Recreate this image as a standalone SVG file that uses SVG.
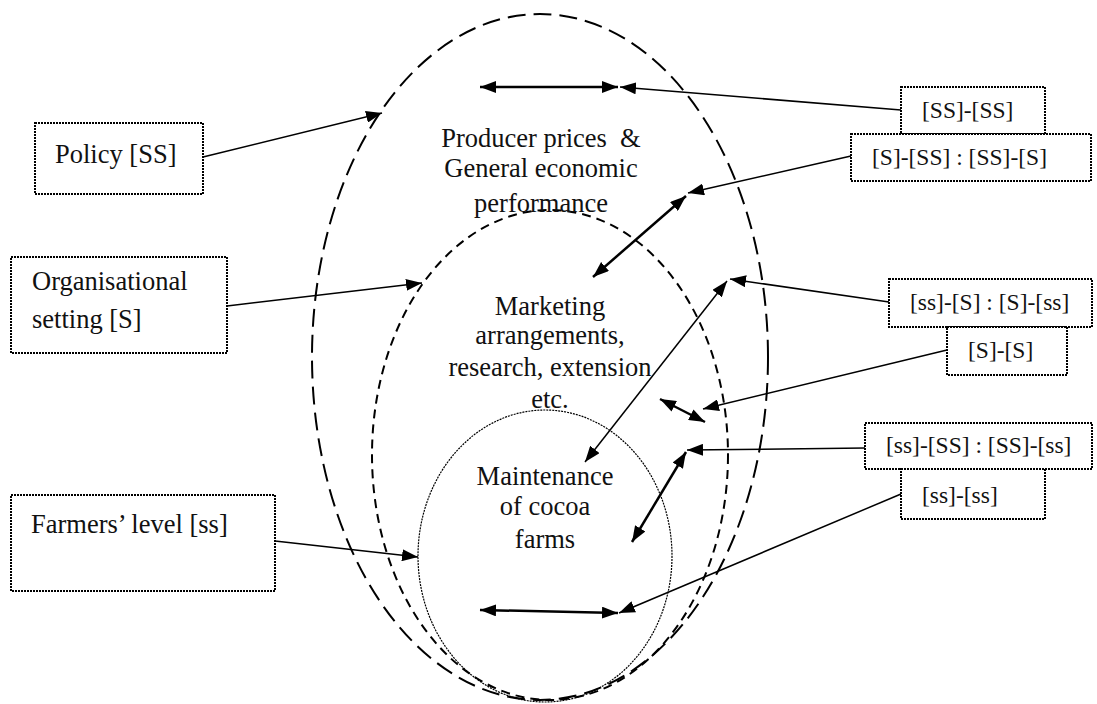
<svg xmlns="http://www.w3.org/2000/svg" width="1097" height="704" viewBox="0 0 1097 704">
  <style>
    .box { fill: #fff; stroke: #000; stroke-width: 2; stroke-dasharray: 2 1; }
    .lbl { font-family: "Liberation Serif", "Times New Roman", serif; font-size: 26.5px; fill: #111; }
    .code { font-size: 23.5px; }
    .mid { text-anchor: middle; }
    .conn { stroke: #000; stroke-width: 1.5; fill: none; }
    .thick { stroke: #000; stroke-width: 2.5; fill: none; }
    .ring-outer { fill: none; stroke: #000; stroke-width: 2; stroke-dasharray: 18 8; }
    .ring-mid { fill: none; stroke: #000; stroke-width: 2; stroke-dasharray: 9 6; }
    .ring-inner { fill: none; stroke: #000; stroke-width: 1.2; stroke-dasharray: 2 1; }
  </style>
  <defs>
    <marker id="head" viewBox="0 0 16 12" refX="16" refY="6" markerWidth="16" markerHeight="12" markerUnits="userSpaceOnUse" orient="auto-start-reverse">
      <path d="M0,0 L16,6 L0,12 z" fill="#000"/>
    </marker>
  </defs>

  <!-- nested levels -->
  <g id="levels">
    <ellipse id="level-policy" class="ring-outer" cx="540" cy="357" rx="228" ry="343"/>
    <ellipse id="level-organisation" class="ring-mid" cx="550" cy="455" rx="178" ry="245"/>
    <ellipse id="level-farm" class="ring-inner" cx="545" cy="556" rx="127" ry="146"/>
  </g>

  <!-- labels inside the levels -->
  <g id="level-texts">
    <text class="lbl mid" x="541" y="147">Producer prices&#160; &amp;</text>
    <text class="lbl mid" x="541" y="177">General economic</text>
    <text class="lbl mid" x="541" y="212">performance</text>
    <text class="lbl mid" x="550" y="315">Marketing</text>
    <text class="lbl mid" x="550" y="344">arrangements,</text>
    <text class="lbl mid" x="550" y="376">research, extension</text>
    <text class="lbl mid" x="550" y="408">etc.</text>
    <text class="lbl mid" x="545" y="485">Maintenance</text>
    <text class="lbl mid" x="545" y="515">of cocoa</text>
    <text class="lbl mid" x="545" y="548">farms</text>
  </g>

  <!-- connectors -->
  <g id="connectors">
    <line class="conn" x1="203" y1="157" x2="382" y2="113" marker-end="url(#head)"/>
    <line class="conn" x1="227" y1="306" x2="422" y2="283" marker-end="url(#head)"/>
    <line class="conn" x1="275" y1="541" x2="418" y2="557" marker-end="url(#head)"/>

    <line class="thick" x1="480" y1="87" x2="618" y2="87" marker-start="url(#head)" marker-end="url(#head)"/>
    <line class="conn" x1="901" y1="110" x2="620" y2="87" marker-end="url(#head)"/>

    <line class="conn" x1="851" y1="156" x2="688" y2="193" marker-end="url(#head)"/>
    <line class="thick" x1="686" y1="196" x2="593" y2="277" marker-start="url(#head)" marker-end="url(#head)"/>

    <line class="conn" x1="889" y1="302" x2="730" y2="279" marker-end="url(#head)"/>
    <line class="conn" x1="727" y1="281" x2="585" y2="462" marker-start="url(#head)" marker-end="url(#head)"/>

    <line class="conn" x1="947" y1="350" x2="703" y2="409" marker-end="url(#head)"/>
    <line class="thick" x1="660" y1="399" x2="705" y2="422" marker-start="url(#head)" marker-end="url(#head)"/>

    <line class="conn" x1="865" y1="448" x2="687" y2="450" marker-end="url(#head)"/>
    <line class="thick" x1="686" y1="452" x2="632" y2="542" marker-start="url(#head)" marker-end="url(#head)"/>

    <line class="conn" x1="901" y1="494" x2="619" y2="613" marker-end="url(#head)"/>
    <line class="thick" x1="480" y1="610" x2="618" y2="613" marker-start="url(#head)" marker-end="url(#head)"/>
  </g>

  <!-- left-hand boxes -->
  <g id="policy">
    <rect class="box" x="35" y="123" width="168" height="71"/>
    <text class="lbl" x="55" y="163">Policy [SS]</text>
  </g>
  <g id="organisational-setting">
    <rect class="box" x="11" y="257" width="216" height="96"/>
    <text class="lbl" x="32" y="290">Organisational</text>
    <text class="lbl" x="32" y="328">setting [S]</text>
  </g>
  <g id="farmers-level">
    <rect class="box" x="11" y="495" width="264" height="96"/>
    <text class="lbl" x="31" y="533">Farmers’ level [ss]</text>
  </g>

  <!-- right-hand boxes -->
  <g id="ss-ss-upper">
    <rect class="box" x="901" y="87" width="144" height="47"/>
    <text class="lbl code" x="922" y="118">[SS]-[SS]</text>
  </g>
  <g id="s-ss">
    <rect class="box" x="851" y="134" width="240" height="47"/>
    <text class="lbl code" x="872" y="165">[S]-[SS] : [SS]-[S]</text>
  </g>
  <g id="ss-s">
    <rect class="box" x="889" y="279" width="203" height="48"/>
    <text class="lbl code" x="910" y="310">[ss]-[S] : [S]-[ss]</text>
  </g>
  <g id="s-s">
    <rect class="box" x="947" y="327" width="120" height="48"/>
    <text class="lbl code" x="968" y="358">[S]-[S]</text>
  </g>
  <g id="ss-SS">
    <rect class="box" x="865" y="423" width="227" height="46"/>
    <text class="lbl code" x="886" y="453">[ss]-[SS] : [SS]-[ss]</text>
  </g>
  <g id="ss-ss-lower">
    <rect class="box" x="901" y="469" width="144" height="50"/>
    <text class="lbl code" x="922" y="503">[ss]-[ss]</text>
  </g>
</svg>
